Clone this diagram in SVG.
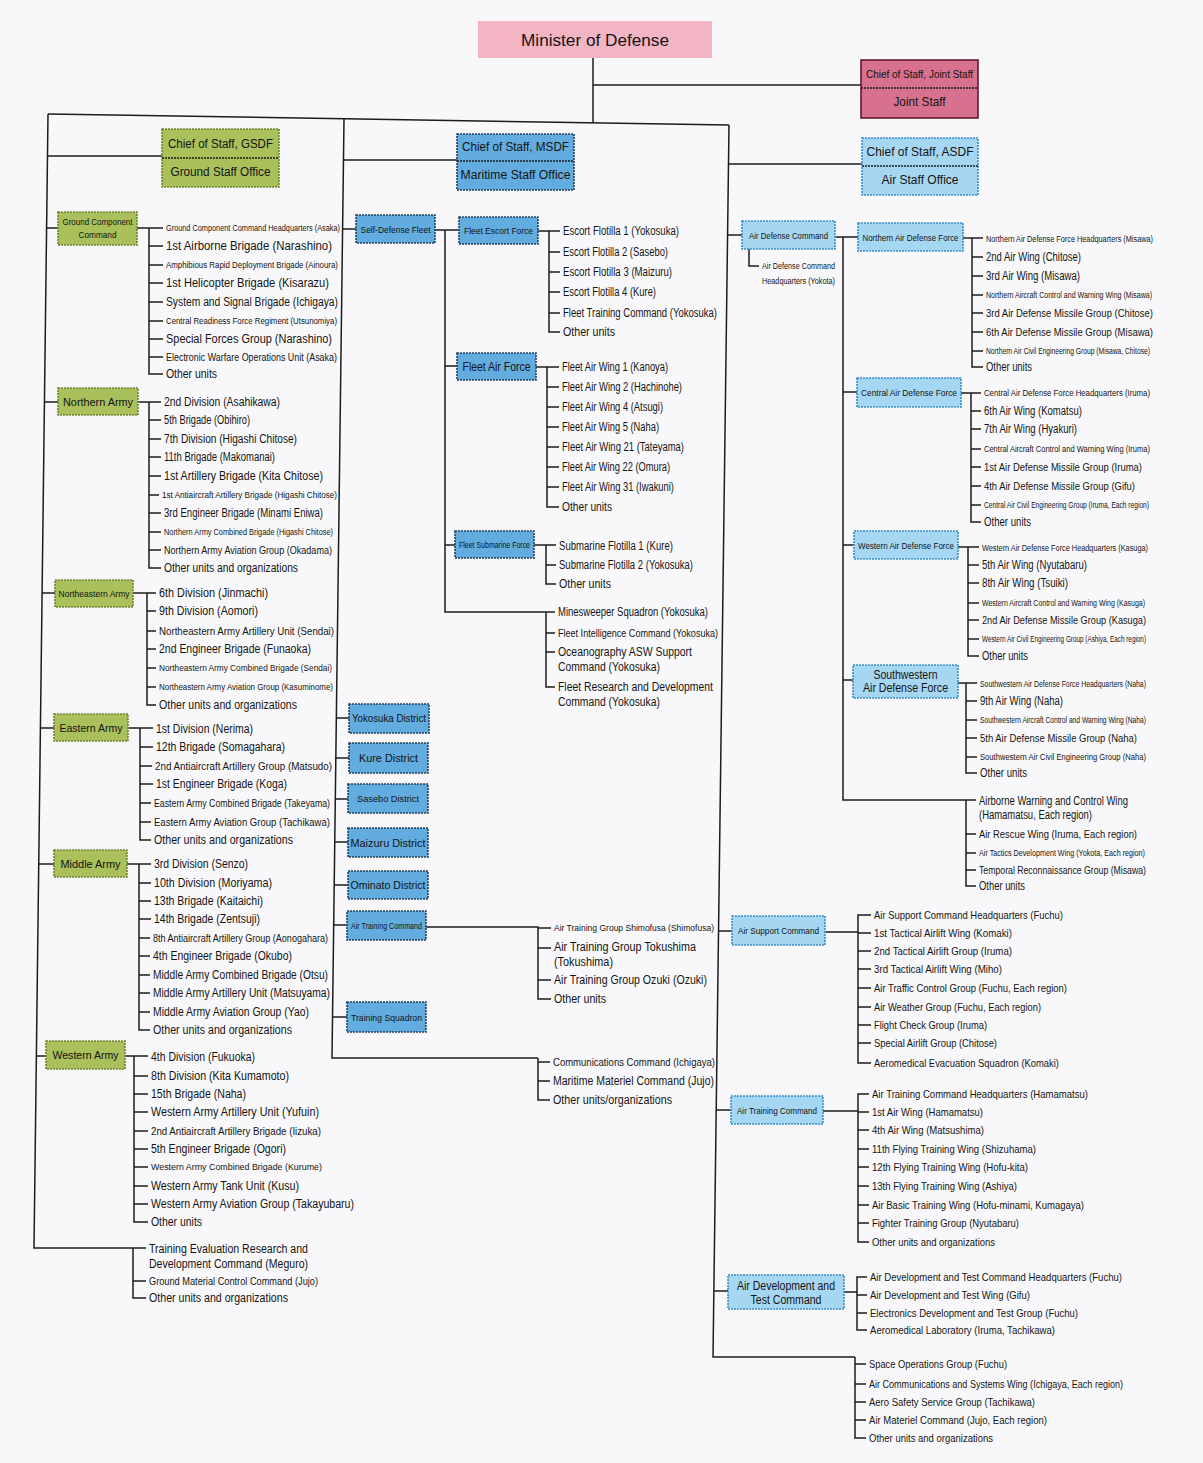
<svg xmlns="http://www.w3.org/2000/svg" width="1203" height="1463" viewBox="0 0 1203 1463">
<style>
text{font-family:"Liberation Sans",Arial,sans-serif;fill:#141414;dominant-baseline:central}
.u text{font-size:12px}
.u text.sm{font-size:8.5px}
.u text.md{font-size:10.5px}
.b text{text-anchor:middle}
.ln{fill:none;stroke:#1c1c1c;stroke-width:1.5}
.g{fill:#a9c05b;stroke:#6f8233;stroke-width:1.6;stroke-dasharray:2 1}
.m{fill:#62acdf;stroke:#23405e;stroke-width:1.6;stroke-dasharray:2 1}
.a{fill:#a6d7f2;stroke:#3a8ec6;stroke-width:1.6;stroke-dasharray:2 1}
.j{fill:#d8718e;stroke:#5e1c2e;stroke-width:1.6}
.p{fill:#f3b5c3}
.dv{stroke-width:1.3;stroke-dasharray:2 1}
</style>
<rect x="0" y="0" width="1203" height="1463" fill="#f8f8fa"/>

<g id="connectors" class="ln">
<path d="M593 58V123M593 85H861M48 114L729 125"/>
<path d="M48 114L34 1248H133M344 119L332 1058H538M729 125L713 1357H855"/>
<path d="M47.5 156H162M343.5 160H457M728.5 164H862"/>
<path d="M46.6 228H58M44.5 402H58M42.1 593H55M40.4 728H54M38.7 864H54M36.4 1056H46"/>
<path d="M137 228H163M149 228V374H163M149 246H163M149 265H163M149 283H163M149 302H163M149 321H163M149 339H163M149 357H163"/>
<path d="M138 402H161M149 402V568H161M149 420H161M149 439H161M149 457H161M149 476H161M149 495H159M149 513H161M149 532H161M149 550H161"/>
<path d="M133 593H156M147 593V705H156M147 611H156M147 631H156M147 649H156M147 668H156M147 687H156"/>
<path d="M128 728H153M140 728V840H151M140 747H153M140 766H152M140 784H153M140 803H151M140 822H151"/>
<path d="M127 864H151M139 864V1030H150M139 883H151M139 901H151M139 919H151M139 938H150M139 956H150M139 975H150M139 993H150M139 1012H150"/>
<path d="M125 1056H148M134 1056V1222H148M134 1076H148M134 1094H148M134 1112H148M134 1131H148M134 1149H148M134 1167H148M134 1186H148M134 1204H148"/>
<path d="M133 1248V1298H146M133 1248H146M133 1281H146"/>
<path d="M342.6 229H356M435 230H459M445 230V612H546M445 366H457M445 545H455"/>
<path d="M538 231H560M549 231V332H560M549 252H560M549 272H560M549 292H560M549 313H560"/>
<path d="M536 367H559M547 367V507H559M547 387H559M547 407H559M547 427H559M547 447H559M547 467H559M547 487H559"/>
<path d="M534 545H556M546 545V584H556M546 565H556"/>
<path d="M546 612V687H555M546 612H555M546 633H555M546 652H555"/>
<path d="M336.3 718H349M335.8 758H349M335.3 799H348M334.8 842H348M334.2 885H348M333.7 925H347M332.5 1017H347"/>
<path d="M426 927H538V999H551M538 928H551M538 948H551M538 980H551"/>
<path d="M538 1058V1100H550M538 1062H550M538 1081H550"/>
<path d="M727.6 235H742M749 249V266H759M835 237H858M843 237V800H976M843 392H857M843 545H854M843 680H853"/>
<path d="M963 238H983M972 238V367H983M972 257H983M972 276H983M972 295H983M972 313H983M972 332H983M972 351H983"/>
<path d="M961 393H981M971 393V522H981M971 411H981M971 429H981M971 449H981M971 467H981M971 486H981M971 505H981"/>
<path d="M958 547H979M968 547V656H979M968 565H979M968 583H979M968 603H979M968 620H979M968 639H979"/>
<path d="M958 683H977M966 683V773H977M966 701H977M966 720H977M966 738H977M966 757H977"/>
<path d="M966 800V886H976M966 834H976M966 853H976M966 870H976"/>
<path d="M718.5 931H732M825 932H858M871 915H858V1063H871M858 933H871M858 951H871M858 969H871M858 988H871M858 1007H871M858 1025H871M858 1043H871"/>
<path d="M716.2 1110H731M823 1111H858M869 1094H858V1242H869M858 1112H869M858 1130H869M858 1149H869M858 1167H869M858 1186H869M858 1205H869M858 1223H869"/>
<path d="M713.9 1291H728M844 1292H857M867 1277H857V1330H867M857 1295H867M857 1313H867"/>
<path d="M855 1357V1438H866M855 1364H866M855 1384H866M855 1402H866M855 1420H866"/>
</g>

<g id="minister" class="b"><rect class="p" x="478" y="21" width="234" height="37"/><text x="595" y="40" font-size="17" textLength="148" lengthAdjust="spacingAndGlyphs">Minister of Defense</text></g>
<g id="joint-staff" class="b"><rect class="j" x="861" y="60" width="117" height="58"/><line class="ln dv" x1="861" y1="88" x2="978" y2="88" stroke="#5e1c2e"/><text x="919.5" y="74" font-size="10.5" textLength="107" lengthAdjust="spacingAndGlyphs">Chief of Staff, Joint Staff</text><text x="919.5" y="102" font-size="12" textLength="52" lengthAdjust="spacingAndGlyphs">Joint Staff</text></g>
<g id="gsdf" class="b"><rect class="g" x="162" y="129" width="117" height="58"/><line class="ln dv" x1="162" y1="158" x2="279" y2="158" stroke="#6f8233"/><text x="220.5" y="144" font-size="12.5" textLength="105" lengthAdjust="spacingAndGlyphs">Chief of Staff, GSDF</text><text x="220.5" y="172" font-size="12.5" textLength="100" lengthAdjust="spacingAndGlyphs">Ground Staff Office</text></g>
<g id="msdf" class="b"><rect class="m" x="457" y="134" width="117" height="56"/><line class="ln dv" x1="457" y1="161" x2="574" y2="161" stroke="#23405e"/><text x="515.5" y="147" font-size="12.5" textLength="107" lengthAdjust="spacingAndGlyphs">Chief of Staff, MSDF</text><text x="515.5" y="175" font-size="12" textLength="110" lengthAdjust="spacingAndGlyphs">Maritime Staff Office</text></g>
<g id="asdf" class="b"><rect class="a" x="862" y="138" width="116" height="57"/><line class="ln dv" x1="862" y1="166" x2="978" y2="166" stroke="#3a8ec6"/><text x="920" y="152" font-size="12.5" textLength="107" lengthAdjust="spacingAndGlyphs">Chief of Staff, ASDF</text><text x="920" y="180" font-size="12.5" textLength="77" lengthAdjust="spacingAndGlyphs">Air Staff Office</text></g>

<g id="gcc" class="b"><rect class="g" x="58" y="212" width="79" height="33"/><text x="97.5" y="222" font-size="9" textLength="70" lengthAdjust="spacingAndGlyphs">Ground Component</text><text x="97.5" y="235" font-size="9" textLength="38" lengthAdjust="spacingAndGlyphs">Command</text></g>
<g id="northern-army" class="b"><rect class="g" x="58" y="388" width="80" height="27"/><text x="98" y="401.5" font-size="11.5" textLength="70" lengthAdjust="spacingAndGlyphs">Northern Army</text></g>
<g id="northeastern-army" class="b"><rect class="g" x="55" y="580" width="78" height="27"/><text x="94" y="593.5" font-size="9" textLength="71" lengthAdjust="spacingAndGlyphs">Northeastern Army</text></g>
<g id="eastern-army" class="b"><rect class="g" x="54" y="714" width="74" height="27"/><text x="91" y="727.5" font-size="11.5" textLength="63" lengthAdjust="spacingAndGlyphs">Eastern Army</text></g>
<g id="middle-army" class="b"><rect class="g" x="54" y="850" width="73" height="27"/><text x="90.5" y="863.5" font-size="11.5" textLength="60" lengthAdjust="spacingAndGlyphs">Middle Army</text></g>
<g id="western-army" class="b"><rect class="g" x="46" y="1041" width="79" height="28"/><text x="85.5" y="1055" font-size="11.5" textLength="66" lengthAdjust="spacingAndGlyphs">Western Army</text></g>

<g id="gcc-units" class="u">
<text x="166" y="228" class="sm" textLength="174" lengthAdjust="spacingAndGlyphs">Ground Component Command Headquarters (Asaka)</text>
<text x="166" y="246" textLength="166" lengthAdjust="spacingAndGlyphs">1st Airborne Brigade (Narashino)</text>
<text x="166" y="265" class="sm" textLength="172" lengthAdjust="spacingAndGlyphs">Amphibious Rapid Deployment Brigade (Ainoura)</text>
<text x="166" y="283" textLength="163" lengthAdjust="spacingAndGlyphs">1st Helicopter Brigade (Kisarazu)</text>
<text x="166" y="302" textLength="172" lengthAdjust="spacingAndGlyphs">System and Signal Brigade (Ichigaya)</text>
<text x="166" y="321" class="sm" textLength="171" lengthAdjust="spacingAndGlyphs">Central Readiness Force Regiment (Utsunomiya)</text>
<text x="166" y="339" textLength="166" lengthAdjust="spacingAndGlyphs">Special Forces Group (Narashino)</text>
<text x="166" y="357" class="md" textLength="171" lengthAdjust="spacingAndGlyphs">Electronic Warfare Operations Unit (Asaka)</text>
<text x="166" y="374" textLength="51" lengthAdjust="spacingAndGlyphs">Other units</text>
</g>
<g id="northern-army-units" class="u">
<text x="164" y="402" textLength="116" lengthAdjust="spacingAndGlyphs">2nd Division (Asahikawa)</text>
<text x="164" y="420" textLength="86" lengthAdjust="spacingAndGlyphs">5th Brigade (Obihiro)</text>
<text x="164" y="439" textLength="133" lengthAdjust="spacingAndGlyphs">7th Division (Higashi Chitose)</text>
<text x="164" y="457" textLength="111" lengthAdjust="spacingAndGlyphs">11th Brigade (Makomanai)</text>
<text x="164" y="476" textLength="159" lengthAdjust="spacingAndGlyphs">1st Artillery Brigade (Kita Chitose)</text>
<text x="162" y="495" class="sm" textLength="175" lengthAdjust="spacingAndGlyphs">1st Antiaircraft Artillery Brigade (Higashi Chitose)</text>
<text x="164" y="513" textLength="159" lengthAdjust="spacingAndGlyphs">3rd Engineer Brigade (Minami Eniwa)</text>
<text x="164" y="532" class="sm" textLength="169" lengthAdjust="spacingAndGlyphs">Northern Army Combined Brigade (Higashi Chitose)</text>
<text x="164" y="550" class="md" textLength="168" lengthAdjust="spacingAndGlyphs">Northern Army Aviation Group (Okadama)</text>
<text x="164" y="568" textLength="134" lengthAdjust="spacingAndGlyphs">Other units and organizations</text>
</g>
<g id="northeastern-army-units" class="u">
<text x="159" y="593" textLength="109" lengthAdjust="spacingAndGlyphs">6th Division (Jinmachi)</text>
<text x="159" y="611" textLength="99" lengthAdjust="spacingAndGlyphs">9th Division (Aomori)</text>
<text x="159" y="631" class="md" textLength="175" lengthAdjust="spacingAndGlyphs">Northeastern Army Artillery Unit (Sendai)</text>
<text x="159" y="649" textLength="152" lengthAdjust="spacingAndGlyphs">2nd Engineer Brigade (Funaoka)</text>
<text x="159" y="668" class="sm" textLength="173" lengthAdjust="spacingAndGlyphs">Northeastern Army Combined Brigade (Sendai)</text>
<text x="159" y="687" class="sm" textLength="174" lengthAdjust="spacingAndGlyphs">Northeastern Army Aviation Group (Kasuminome)</text>
<text x="159" y="705" textLength="138" lengthAdjust="spacingAndGlyphs">Other units and organizations</text>
</g>
<g id="eastern-army-units" class="u">
<text x="156" y="729" textLength="97" lengthAdjust="spacingAndGlyphs">1st Division (Nerima)</text>
<text x="156" y="747" textLength="129" lengthAdjust="spacingAndGlyphs">12th Brigade (Somagahara)</text>
<text x="155" y="766" class="md" textLength="177" lengthAdjust="spacingAndGlyphs">2nd Antiaircraft Artillery Group (Matsudo)</text>
<text x="156" y="784" textLength="131" lengthAdjust="spacingAndGlyphs">1st Engineer Brigade (Koga)</text>
<text x="154" y="803" class="md" textLength="176" lengthAdjust="spacingAndGlyphs">Eastern Army Combined Brigade (Takeyama)</text>
<text x="154" y="822" class="md" textLength="176" lengthAdjust="spacingAndGlyphs">Eastern Army Aviation Group (Tachikawa)</text>
<text x="154" y="840" textLength="139" lengthAdjust="spacingAndGlyphs">Other units and organizations</text>
</g>
<g id="middle-army-units" class="u">
<text x="154" y="864" textLength="94" lengthAdjust="spacingAndGlyphs">3rd Division (Senzo)</text>
<text x="154" y="883" textLength="118" lengthAdjust="spacingAndGlyphs">10th Division (Moriyama)</text>
<text x="154" y="901" textLength="109" lengthAdjust="spacingAndGlyphs">13th Brigade (Kaitaichi)</text>
<text x="154" y="919" textLength="106" lengthAdjust="spacingAndGlyphs">14th Brigade (Zentsuji)</text>
<text x="153" y="938" class="md" textLength="175" lengthAdjust="spacingAndGlyphs">8th Antiaircraft Artillery Group (Aonogahara)</text>
<text x="153" y="956" textLength="139" lengthAdjust="spacingAndGlyphs">4th Engineer Brigade (Okubo)</text>
<text x="153" y="975" textLength="175" lengthAdjust="spacingAndGlyphs">Middle Army Combined Brigade (Otsu)</text>
<text x="153" y="993" textLength="177" lengthAdjust="spacingAndGlyphs">Middle Army Artillery Unit (Matsuyama)</text>
<text x="153" y="1012" textLength="156" lengthAdjust="spacingAndGlyphs">Middle Army Aviation Group (Yao)</text>
<text x="153" y="1030" textLength="139" lengthAdjust="spacingAndGlyphs">Other units and organizations</text>
</g>
<g id="western-army-units" class="u">
<text x="151" y="1057" textLength="104" lengthAdjust="spacingAndGlyphs">4th Division (Fukuoka)</text>
<text x="151" y="1076" textLength="138" lengthAdjust="spacingAndGlyphs">8th Division (Kita Kumamoto)</text>
<text x="151" y="1094" textLength="95" lengthAdjust="spacingAndGlyphs">15th Brigade (Naha)</text>
<text x="151" y="1112" textLength="168" lengthAdjust="spacingAndGlyphs">Western Army Artillery Unit (Yufuin)</text>
<text x="151" y="1131" class="md" textLength="170" lengthAdjust="spacingAndGlyphs">2nd Antiaircraft Artillery Brigade (Iizuka)</text>
<text x="151" y="1149" textLength="135" lengthAdjust="spacingAndGlyphs">5th Engineer Brigade (Ogori)</text>
<text x="151" y="1167" class="sm" textLength="171" lengthAdjust="spacingAndGlyphs">Western Army Combined Brigade (Kurume)</text>
<text x="151" y="1186" textLength="148" lengthAdjust="spacingAndGlyphs">Western Army Tank Unit (Kusu)</text>
<text x="151" y="1204" textLength="203" lengthAdjust="spacingAndGlyphs">Western Army Aviation Group (Takayubaru)</text>
<text x="151" y="1222" textLength="51" lengthAdjust="spacingAndGlyphs">Other units</text>
</g>
<g id="gsdf-other-units" class="u">
<text x="149" y="1249" textLength="159" lengthAdjust="spacingAndGlyphs">Training Evaluation Research and</text>
<text x="149" y="1264" textLength="159" lengthAdjust="spacingAndGlyphs">Development Command (Meguro)</text>
<text x="149" y="1281" class="md" textLength="169" lengthAdjust="spacingAndGlyphs">Ground Material Control Command (Jujo)</text>
<text x="149" y="1298" textLength="139" lengthAdjust="spacingAndGlyphs">Other units and organizations</text>
</g>

<g id="self-defense-fleet" class="b"><rect class="m" x="356" y="215" width="79" height="28"/><text x="395.5" y="229" font-size="9.5" textLength="70" lengthAdjust="spacingAndGlyphs">Self-Defense Fleet</text></g>
<g id="fleet-escort-force" class="b"><rect class="m" x="459" y="217" width="79" height="27"/><text x="498.5" y="230.5" font-size="9.5" textLength="69" lengthAdjust="spacingAndGlyphs">Fleet Escort Force</text></g>
<g id="fleet-air-force" class="b"><rect class="m" x="457" y="353" width="79" height="27"/><text x="496.5" y="366.5" font-size="12" textLength="68" lengthAdjust="spacingAndGlyphs">Fleet Air Force</text></g>
<g id="fleet-submarine-force" class="b"><rect class="m" x="455" y="531" width="79" height="27"/><text x="494.5" y="544.5" font-size="8.5" textLength="71" lengthAdjust="spacingAndGlyphs">Fleet Submarine Force</text></g>
<g id="yokosuka-district" class="b"><rect class="m" x="349" y="704" width="80" height="29"/><text x="389" y="718.5" font-size="10" textLength="74" lengthAdjust="spacingAndGlyphs">Yokosuka District</text></g>
<g id="kure-district" class="b"><rect class="m" x="349" y="743" width="79" height="30"/><text x="388.5" y="758" font-size="11.5" textLength="59" lengthAdjust="spacingAndGlyphs">Kure District</text></g>
<g id="sasebo-district" class="b"><rect class="m" x="348" y="784" width="80" height="29"/><text x="388" y="798.5" font-size="9.5" textLength="62" lengthAdjust="spacingAndGlyphs">Sasebo District</text></g>
<g id="maizuru-district" class="b"><rect class="m" x="348" y="828" width="80" height="29"/><text x="388" y="842.5" font-size="11" textLength="75" lengthAdjust="spacingAndGlyphs">Maizuru District</text></g>
<g id="ominato-district" class="b"><rect class="m" x="348" y="871" width="80" height="28"/><text x="388" y="885" font-size="10.5" textLength="75" lengthAdjust="spacingAndGlyphs">Ominato District</text></g>
<g id="msdf-air-training-command" class="b"><rect class="m" x="347" y="911" width="79" height="29"/><text x="386.5" y="925.5" font-size="8.5" textLength="71" lengthAdjust="spacingAndGlyphs">Air Training Command</text></g>
<g id="training-squadron" class="b"><rect class="m" x="347" y="1002" width="79" height="30"/><text x="386.5" y="1017" font-size="9.5" textLength="71" lengthAdjust="spacingAndGlyphs">Training Squadron</text></g>

<g id="fleet-escort-units" class="u">
<text x="563" y="231" textLength="116" lengthAdjust="spacingAndGlyphs">Escort Flotilla 1 (Yokosuka)</text>
<text x="563" y="252" textLength="105" lengthAdjust="spacingAndGlyphs">Escort Flotilla 2 (Sasebo)</text>
<text x="563" y="272" textLength="109" lengthAdjust="spacingAndGlyphs">Escort Flotilla 3 (Maizuru)</text>
<text x="563" y="292" textLength="93" lengthAdjust="spacingAndGlyphs">Escort Flotilla 4 (Kure)</text>
<text x="563" y="313" textLength="154" lengthAdjust="spacingAndGlyphs">Fleet Training Command (Yokosuka)</text>
<text x="563" y="332" textLength="52" lengthAdjust="spacingAndGlyphs">Other units</text>
</g>
<g id="fleet-air-units" class="u">
<text x="562" y="367" textLength="106" lengthAdjust="spacingAndGlyphs">Fleet Air Wing 1 (Kanoya)</text>
<text x="562" y="387" textLength="120" lengthAdjust="spacingAndGlyphs">Fleet Air Wing 2 (Hachinohe)</text>
<text x="562" y="407" textLength="101" lengthAdjust="spacingAndGlyphs">Fleet Air Wing 4 (Atsugi)</text>
<text x="562" y="427" textLength="97" lengthAdjust="spacingAndGlyphs">Fleet Air Wing 5 (Naha)</text>
<text x="562" y="447" textLength="122" lengthAdjust="spacingAndGlyphs">Fleet Air Wing 21 (Tateyama)</text>
<text x="562" y="467" textLength="108" lengthAdjust="spacingAndGlyphs">Fleet Air Wing 22 (Omura)</text>
<text x="562" y="487" textLength="112" lengthAdjust="spacingAndGlyphs">Fleet Air Wing 31 (Iwakuni)</text>
<text x="562" y="507" textLength="50" lengthAdjust="spacingAndGlyphs">Other units</text>
</g>
<g id="fleet-submarine-units" class="u">
<text x="559" y="546" textLength="114" lengthAdjust="spacingAndGlyphs">Submarine Flotilla 1 (Kure)</text>
<text x="559" y="565" textLength="134" lengthAdjust="spacingAndGlyphs">Submarine Flotilla 2 (Yokosuka)</text>
<text x="559" y="584" textLength="52" lengthAdjust="spacingAndGlyphs">Other units</text>
</g>
<g id="fleet-other-units" class="u">
<text x="558" y="612" textLength="150" lengthAdjust="spacingAndGlyphs">Minesweeper Squadron (Yokosuka)</text>
<text x="558" y="633" class="md" textLength="160" lengthAdjust="spacingAndGlyphs">Fleet Intelligence Command (Yokosuka)</text>
<text x="558" y="652" textLength="134" lengthAdjust="spacingAndGlyphs">Oceanography ASW Support</text>
<text x="558" y="667" textLength="102" lengthAdjust="spacingAndGlyphs">Command (Yokosuka)</text>
<text x="558" y="687" textLength="155" lengthAdjust="spacingAndGlyphs">Fleet Research and Development</text>
<text x="558" y="702" textLength="102" lengthAdjust="spacingAndGlyphs">Command (Yokosuka)</text>
</g>
<g id="msdf-air-training-units" class="u">
<text x="554" y="928" font-size="9" style="font-size:9px" textLength="160" lengthAdjust="spacingAndGlyphs">Air Training Group Shimofusa (Shimofusa)</text>
<text x="554" y="947" textLength="142" lengthAdjust="spacingAndGlyphs">Air Training Group Tokushima</text>
<text x="554" y="962" textLength="59" lengthAdjust="spacingAndGlyphs">(Tokushima)</text>
<text x="554" y="980" textLength="153" lengthAdjust="spacingAndGlyphs">Air Training Group Ozuki (Ozuki)</text>
<text x="554" y="999" textLength="52" lengthAdjust="spacingAndGlyphs">Other units</text>
</g>
<g id="msdf-other-units" class="u">
<text x="553" y="1062" class="md" textLength="162" lengthAdjust="spacingAndGlyphs">Communications Command (Ichigaya)</text>
<text x="553" y="1081" textLength="161" lengthAdjust="spacingAndGlyphs">Maritime Materiel Command (Jujo)</text>
<text x="553" y="1100" textLength="119" lengthAdjust="spacingAndGlyphs">Other units/organizations</text>
</g>

<g id="air-defense-command" class="b"><rect class="a" x="742" y="221" width="93" height="28"/><text x="788.5" y="235" font-size="9.5" textLength="79" lengthAdjust="spacingAndGlyphs">Air Defense Command</text></g>
<g id="northern-adf" class="b"><rect class="a" x="858" y="223" width="105" height="28"/><text x="910.5" y="237" font-size="9.5" textLength="96" lengthAdjust="spacingAndGlyphs">Northern Air Defense Force</text></g>
<g id="central-adf" class="b"><rect class="a" x="857" y="378" width="104" height="29"/><text x="909" y="392.5" font-size="9.5" textLength="96" lengthAdjust="spacingAndGlyphs">Central Air Defense Force</text></g>
<g id="western-adf" class="b"><rect class="a" x="854" y="531" width="104" height="28"/><text x="906" y="545" font-size="9.5" textLength="96" lengthAdjust="spacingAndGlyphs">Western Air Defense Force</text></g>
<g id="southwestern-adf" class="b"><rect class="a" x="853" y="665" width="105" height="33"/><text x="905.5" y="675" font-size="12" textLength="64" lengthAdjust="spacingAndGlyphs">Southwestern</text><text x="905.5" y="688" font-size="12" textLength="85" lengthAdjust="spacingAndGlyphs">Air Defense Force</text></g>
<g id="air-support-command" class="b"><rect class="a" x="732" y="916" width="93" height="29"/><text x="778.5" y="930.5" font-size="9.5" textLength="81" lengthAdjust="spacingAndGlyphs">Air Support Command</text></g>
<g id="asdf-air-training-command" class="b"><rect class="a" x="731" y="1096" width="92" height="28"/><text x="777" y="1110" font-size="9.5" textLength="80" lengthAdjust="spacingAndGlyphs">Air Training Command</text></g>
<g id="air-development-test-command" class="b"><rect class="a" x="728" y="1275" width="116" height="34"/><text x="786" y="1286" font-size="12" textLength="98" lengthAdjust="spacingAndGlyphs">Air Development and</text><text x="786" y="1299.5" font-size="12" textLength="71" lengthAdjust="spacingAndGlyphs">Test Command</text></g>

<g id="adc-hq" class="u">
<text x="762" y="266" class="sm" textLength="73" lengthAdjust="spacingAndGlyphs">Air Defense Command</text>
<text x="762" y="281" class="sm" textLength="73" lengthAdjust="spacingAndGlyphs">Headquarters (Yokota)</text>
</g>
<g id="northern-adf-units" class="u">
<text x="986" y="239" class="sm" textLength="167" lengthAdjust="spacingAndGlyphs">Northern Air Defense Force Headquarters (Misawa)</text>
<text x="986" y="257" textLength="95" lengthAdjust="spacingAndGlyphs">2nd Air Wing (Chitose)</text>
<text x="986" y="276" textLength="94" lengthAdjust="spacingAndGlyphs">3rd Air Wing (Misawa)</text>
<text x="986" y="295" class="sm" textLength="166" lengthAdjust="spacingAndGlyphs">Northern Aircraft Control and Warning Wing (Misawa)</text>
<text x="986" y="313" class="md" textLength="167" lengthAdjust="spacingAndGlyphs">3rd Air Defense Missile Group (Chitose)</text>
<text x="986" y="332" class="md" textLength="167" lengthAdjust="spacingAndGlyphs">6th Air Defense Missile Group (Misawa)</text>
<text x="986" y="351" class="sm" textLength="164" lengthAdjust="spacingAndGlyphs">Northern Air Civil Engineering Group (Misawa, Chitose)</text>
<text x="986" y="367" textLength="46" lengthAdjust="spacingAndGlyphs">Other units</text>
</g>
<g id="central-adf-units" class="u">
<text x="984" y="393" class="sm" textLength="166" lengthAdjust="spacingAndGlyphs">Central Air Defense Force Headquarters (Iruma)</text>
<text x="984" y="411" textLength="98" lengthAdjust="spacingAndGlyphs">6th Air Wing (Komatsu)</text>
<text x="984" y="429" textLength="93" lengthAdjust="spacingAndGlyphs">7th Air Wing (Hyakuri)</text>
<text x="984" y="449" class="sm" textLength="166" lengthAdjust="spacingAndGlyphs">Central Aircraft Control and Warning Wing (Iruma)</text>
<text x="984" y="467" class="md" textLength="158" lengthAdjust="spacingAndGlyphs">1st Air Defense Missile Group (Iruma)</text>
<text x="984" y="486" class="md" textLength="151" lengthAdjust="spacingAndGlyphs">4th Air Defense Missile Group (Gifu)</text>
<text x="984" y="505" class="sm" textLength="165" lengthAdjust="spacingAndGlyphs">Central Air Civil Engineering Group (Iruma, Each region)</text>
<text x="984" y="522" textLength="47" lengthAdjust="spacingAndGlyphs">Other units</text>
</g>
<g id="western-adf-units" class="u">
<text x="982" y="548" class="sm" textLength="166" lengthAdjust="spacingAndGlyphs">Western Air Defense Force Headquarters (Kasuga)</text>
<text x="982" y="565" textLength="105" lengthAdjust="spacingAndGlyphs">5th Air Wing (Nyutabaru)</text>
<text x="982" y="583" textLength="86" lengthAdjust="spacingAndGlyphs">8th Air Wing (Tsuiki)</text>
<text x="982" y="603" class="sm" textLength="163" lengthAdjust="spacingAndGlyphs">Western Aircraft Control and Warning Wing (Kasuga)</text>
<text x="982" y="620" class="md" textLength="164" lengthAdjust="spacingAndGlyphs">2nd Air Defense Missile Group (Kasuga)</text>
<text x="982" y="639" class="sm" textLength="164" lengthAdjust="spacingAndGlyphs">Western Air Civil Engineering Group (Ashiya, Each region)</text>
<text x="982" y="656" textLength="46" lengthAdjust="spacingAndGlyphs">Other units</text>
</g>
<g id="southwestern-adf-units" class="u">
<text x="980" y="684" class="sm" textLength="166" lengthAdjust="spacingAndGlyphs">Southwestern Air Defense Force Headquarters (Naha)</text>
<text x="980" y="701" textLength="83" lengthAdjust="spacingAndGlyphs">9th Air Wing (Naha)</text>
<text x="980" y="720" class="sm" textLength="166" lengthAdjust="spacingAndGlyphs">Southwestern Aircraft Control and Warning Wing (Naha)</text>
<text x="980" y="738" class="md" textLength="157" lengthAdjust="spacingAndGlyphs">5th Air Defense Missile Group (Naha)</text>
<text x="980" y="757" class="sm" textLength="166" lengthAdjust="spacingAndGlyphs">Southwestern Air Civil Engineering Group (Naha)</text>
<text x="980" y="773" textLength="47" lengthAdjust="spacingAndGlyphs">Other units</text>
</g>
<g id="adc-other-units" class="u">
<text x="979" y="801" textLength="149" lengthAdjust="spacingAndGlyphs">Airborne Warning and Control Wing</text>
<text x="979" y="815" textLength="113" lengthAdjust="spacingAndGlyphs">(Hamamatsu, Each region)</text>
<text x="979" y="834" class="md" textLength="158" lengthAdjust="spacingAndGlyphs">Air Rescue Wing (Iruma, Each region)</text>
<text x="979" y="853" class="sm" textLength="166" lengthAdjust="spacingAndGlyphs">Air Tactics Development Wing (Yokota, Each region)</text>
<text x="979" y="870" class="md" textLength="167" lengthAdjust="spacingAndGlyphs">Temporal Reconnaissance Group (Misawa)</text>
<text x="979" y="886" textLength="46" lengthAdjust="spacingAndGlyphs">Other units</text>
</g>
<g id="air-support-units" class="u">
<text x="874" y="915" class="md" textLength="189" lengthAdjust="spacingAndGlyphs">Air Support Command Headquarters (Fuchu)</text>
<text x="874" y="933" class="md" textLength="138" lengthAdjust="spacingAndGlyphs">1st Tactical Airlift Wing (Komaki)</text>
<text x="874" y="951" class="md" textLength="138" lengthAdjust="spacingAndGlyphs">2nd Tactical Airlift Group (Iruma)</text>
<text x="874" y="969" class="md" textLength="128" lengthAdjust="spacingAndGlyphs">3rd Tactical Airlift Wing (Miho)</text>
<text x="874" y="988" class="md" textLength="193" lengthAdjust="spacingAndGlyphs">Air Traffic Control Group (Fuchu, Each region)</text>
<text x="874" y="1007" class="md" textLength="167" lengthAdjust="spacingAndGlyphs">Air Weather Group (Fuchu, Each region)</text>
<text x="874" y="1025" class="md" textLength="113" lengthAdjust="spacingAndGlyphs">Flight Check Group (Iruma)</text>
<text x="874" y="1043" class="md" textLength="123" lengthAdjust="spacingAndGlyphs">Special Airlift Group (Chitose)</text>
<text x="874" y="1063" class="md" textLength="185" lengthAdjust="spacingAndGlyphs">Aeromedical Evacuation Squadron (Komaki)</text>
</g>
<g id="asdf-air-training-units" class="u">
<text x="872" y="1094" class="md" textLength="216" lengthAdjust="spacingAndGlyphs">Air Training Command Headquarters (Hamamatsu)</text>
<text x="872" y="1112" class="md" textLength="111" lengthAdjust="spacingAndGlyphs">1st Air Wing (Hamamatsu)</text>
<text x="872" y="1130" class="md" textLength="112" lengthAdjust="spacingAndGlyphs">4th Air Wing (Matsushima)</text>
<text x="872" y="1149" class="md" textLength="164" lengthAdjust="spacingAndGlyphs">11th Flying Training Wing (Shizuhama)</text>
<text x="872" y="1167" class="md" textLength="156" lengthAdjust="spacingAndGlyphs">12th Flying Training Wing (Hofu-kita)</text>
<text x="872" y="1186" class="md" textLength="145" lengthAdjust="spacingAndGlyphs">13th Flying Training Wing (Ashiya)</text>
<text x="872" y="1205" class="md" textLength="212" lengthAdjust="spacingAndGlyphs">Air Basic Training Wing (Hofu-minami, Kumagaya)</text>
<text x="872" y="1223" class="md" textLength="147" lengthAdjust="spacingAndGlyphs">Fighter Training Group (Nyutabaru)</text>
<text x="872" y="1242" class="md" textLength="123" lengthAdjust="spacingAndGlyphs">Other units and organizations</text>
</g>
<g id="air-development-test-units" class="u">
<text x="870" y="1277" class="md" textLength="252" lengthAdjust="spacingAndGlyphs">Air Development and Test Command Headquarters (Fuchu)</text>
<text x="870" y="1295" class="md" textLength="160" lengthAdjust="spacingAndGlyphs">Air Development and Test Wing (Gifu)</text>
<text x="870" y="1313" class="md" textLength="208" lengthAdjust="spacingAndGlyphs">Electronics Development and Test Group (Fuchu)</text>
<text x="870" y="1330" class="md" textLength="185" lengthAdjust="spacingAndGlyphs">Aeromedical Laboratory (Iruma, Tachikawa)</text>
</g>
<g id="asdf-other-units" class="u">
<text x="869" y="1364" class="md" textLength="138" lengthAdjust="spacingAndGlyphs">Space Operations Group (Fuchu)</text>
<text x="869" y="1384" class="md" textLength="254" lengthAdjust="spacingAndGlyphs">Air Communications and Systems Wing (Ichigaya, Each region)</text>
<text x="869" y="1402" class="md" textLength="166" lengthAdjust="spacingAndGlyphs">Aero Safety Service Group (Tachikawa)</text>
<text x="869" y="1420" class="md" textLength="178" lengthAdjust="spacingAndGlyphs">Air Materiel Command (Jujo, Each region)</text>
<text x="869" y="1438" class="md" textLength="124" lengthAdjust="spacingAndGlyphs">Other units and organizations</text>
</g>
</svg>
